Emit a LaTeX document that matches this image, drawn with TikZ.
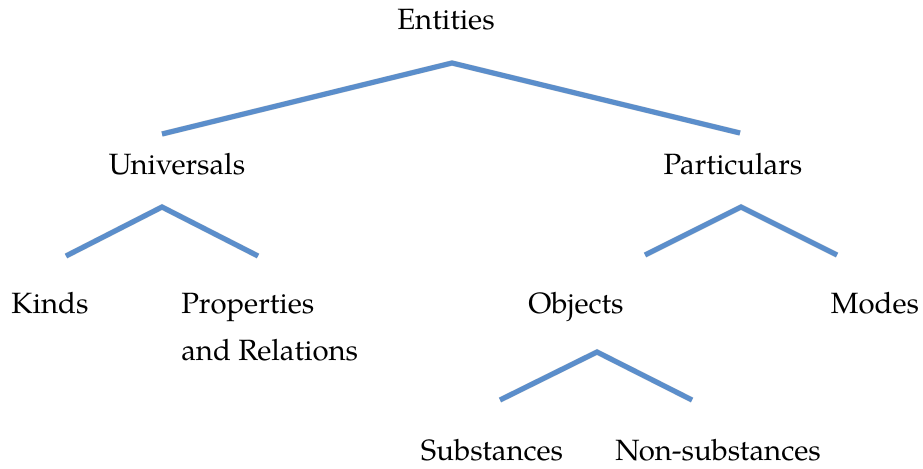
\documentclass[tikz,border=0pt]{standalone}
\usepackage{fontspec}
\setmainfont{TeX Gyre Pagella}
\definecolor{linkblue}{RGB}{91,142,203}
\tikzset{
  px/.style={x=0.75pt,y=-0.75pt},
  lbl/.style={inner sep=0pt,anchor=base,font=\fontsize{22}{35.25}\selectfont},
  branch/.style={draw=linkblue,line width=3.8pt,line join=miter},
  shadowline/.style={draw=black,opacity=0.15,line width=4.2pt,line join=miter,shift={(1,2.5)}}
}
\begin{document}
\begin{tikzpicture}[px]
\useasboundingbox (0,0) rectangle (923,468);
% labels
\node[lbl] (ent) at (446,29) {Entities};
\node[lbl] (uni) at (177,174) {Universals};
\node[lbl] (par) at (733,174) {Particulars};
\node[lbl] (kin) at (50,313) {Kinds};
\node[lbl,anchor=base west,align=left] (pro) at (181,360) {Properties\\and Relations};
\node[lbl] (obj) at (576,313) {Objects};
\node[lbl] (mod) at (875,313) {Modes};
\node[lbl] (sub) at (492,460) {Substances};
\node[lbl] (non) at (718,460) {Non-substances};
% branch points
\coordinate (entA) at (452,63);
\coordinate (entL) at (162,134);
\coordinate (entR) at (740,133);
\coordinate (uniA) at (162,207);
\coordinate (uniL) at (66,256);
\coordinate (uniR) at (258,256);
\coordinate (parA) at (741,207);
\coordinate (parL) at (645,255);
\coordinate (parR) at (837,255);
\coordinate (objA) at (597,352);
\coordinate (objL) at (500,400);
\coordinate (objR) at (692,400);
% shadows
\foreach \n in {ent,uni,par,obj}{
  \path[shadowline] (\n L) -- (\n A) -- (\n R);
}
% branches
\foreach \n in {ent,uni,par,obj}{
  \path[branch] (\n L) -- (\n A) -- (\n R);
}
\end{tikzpicture}
\end{document}
